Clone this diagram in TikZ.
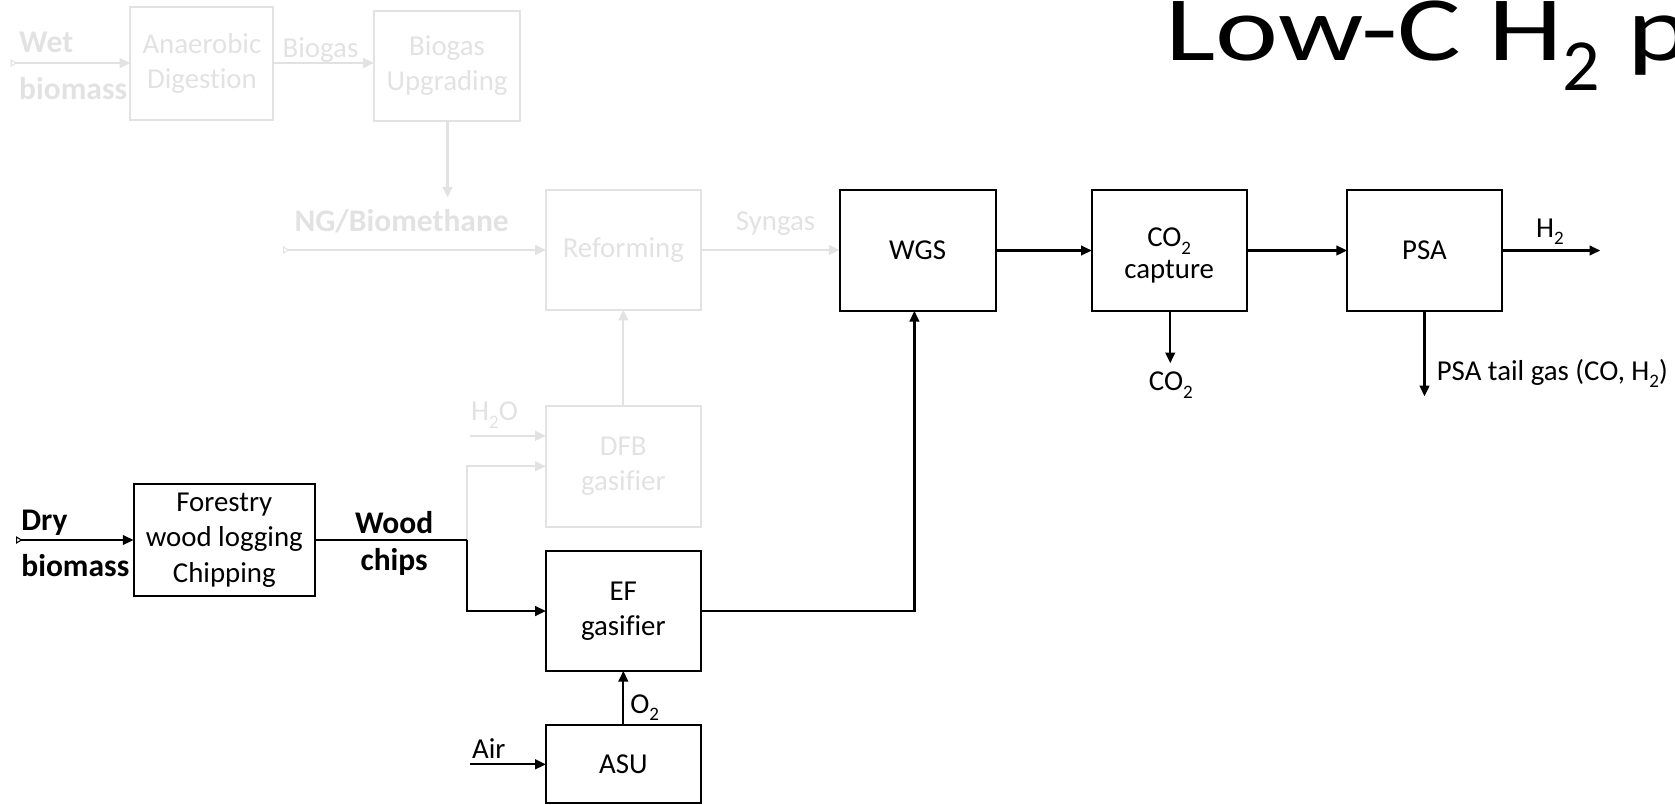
\documentclass[tikz,border=0pt]{standalone}
\usepackage{fontspec}
\setmainfont{Carlito}[Ligatures={TeX,NoCommon}]
\usetikzlibrary{arrows.meta}
\definecolor{faded}{RGB}{226,226,226}
\newcommand{\chemsub}[1]{\raisebox{-0.25em}{\scalebox{0.66}{#1}}}

\begin{document}
\begin{tikzpicture}[x=1pt,y=-1pt,
  txt/.style={font=\fontsize{27}{33}\selectfont, inner sep=0pt, outer sep=0pt},
  btxt/.style={txt, font=\fontsize{29.5}{35}\selectfont\bfseries},
  box/.style={draw, line width=1.9pt, inner sep=0pt, outer sep=0pt, align=center,
              font=\fontsize{27}{33}\selectfont},
  flow/.style={line width=2.1pt, -{Triangle[length=10pt,width=9pt]}},
  plain/.style={line width=2.1pt},
  feed/.style={line width=2.1pt, {Triangle[open,reversed,length=6pt,width=7pt,line width=1pt]}-{Triangle[length=10pt,width=9pt]}},
  dim/.style={draw=faded, text=faded},
]
\useasboundingbox (0,0) rectangle (1568,753);
\clip (0,0) rectangle (1568,753);

% ---------- title ----------
\node[anchor=base west, inner sep=0pt] (title) at (1091,57)
  {\scalebox{1.3}[1]{\fontsize{86}{90}\selectfont Low-C H\raisebox{-0.32em}{\scalebox{0.62}[0.8]{2}} p}};

% ---------- faded routes (anaerobic digestion and DFB gasification) ----------
\node[box, dim, minimum width=134pt, minimum height=105pt] (ad) at (189,59.5) {Anaerobic\\Digestion};
\node[box, dim, minimum width=137pt, minimum height=103pt] (bu) at (418.5,61.5) {Biogas\\Upgrading};
\node[box, dim, minimum width=145pt, minimum height=112pt] (ref) at (583.5,234) {Reforming};
\node[box, dim, minimum width=145pt, minimum height=113pt] (dfb) at (583.5,436.5) {DFB\\gasifier};

\node[btxt, text=faded, anchor=base west] (wet) at (18,49) {Wet};
\node[btxt, text=faded, anchor=base west] (wetb) at (18,93) {biomass};
\node[txt, text=faded, anchor=base] (biogas) at (300,54) {Biogas};
\node[btxt, text=faded, anchor=base] (ngb) at (376,217) {NG/Biomethane};
\node[txt, text=faded, anchor=base] (syngas) at (726,216) {Syngas};
\node[txt, text=faded, anchor=base] (h2o) at (463,394) {H\chemsub{2}O};

\coordinate (wetin) at (10,59);
\coordinate (ngtip) at (419,185);
\coordinate (ngin) at (265,234);
\coordinate (h2oin) at (440,408);
\coordinate (j) at (437,505.5);

\draw[feed, faded] (wetin) -- (ad.west |- wetin);
\draw[flow, faded] (ad.east |- wetin) -- (bu.west |- wetin);
\draw[flow, faded] (bu.south -| ngtip) -- (ngtip);
\draw[feed, faded] (ngin) -- (ref.west);
\draw[flow, faded] (ref.east) -- (ref.east -| 786,0);
\draw[flow, faded] (dfb.north) -- (ref.south);
\draw[flow, faded] (h2oin) -- (dfb.west |- h2oin);
\draw[flow, faded] (j) |- (dfb.west);

% ---------- active route (EF gasification) ----------
\node[box, minimum width=170pt, minimum height=105pt] (fwl) at (210,505.5) {Forestry\\wood logging\\Chipping};
\node[box, minimum width=145pt, minimum height=112pt] (ef) at (583.5,572) {EF\\gasifier};
\node[box, minimum width=145pt, minimum height=73pt] (asu) at (583.5,715.5) {ASU};
\node[box, minimum width=146pt, minimum height=113pt] (wgs) at (859,234.5) {WGS};
\node[box, minimum width=145pt, minimum height=113pt] (cc) at (1094.5,234.5) {};
\node[txt, align=center] (cctext) at ([yshift=-5pt]cc.center) {CO\chemsub{2}\\[-3pt]capture};
\node[box, minimum width=145pt, minimum height=113pt] (psa) at (1333.5,234.5) {PSA};

\node[btxt, anchor=base west] (dry) at (20,497) {Dry};
\node[btxt, anchor=base west] (dryb) at (20,540) {biomass};
\node[btxt, anchor=base] (wood) at (369,499) {Wood};
\node[btxt, anchor=base] (chips) at (369,534) {chips};
\node[txt, anchor=base west] (o2) at (590,668) {O\chemsub{2}};
\node[txt, anchor=base west] (air) at (442,710) {Air};
\node[txt, anchor=base] (h2) at (1451,222) {H\chemsub{2}};
\node[txt, anchor=base] (co2) at (1096,366) {CO\chemsub{2}};
\node[txt, anchor=base west] (tail) at (1345,356) {PSA tail gas (CO, H\chemsub{2})};

\coordinate (dryin) at (15,505.5);
\coordinate (airin) at (440,715.5);
\coordinate (h2out) at (1498,234.5);
\coordinate (co2out) at (1095.5,340);
\coordinate (tailout) at (1333.5,371);

\draw[feed] (dryin) -- (fwl.west);
\draw[plain] (fwl.east) -- (j);
\draw[flow] (j) |- (ef.west);
\draw[flow] (ef.east) -| ([xshift=-3pt]wgs.south);
\draw[flow] (asu.north) -- (ef.south);
\draw[flow] (airin) -- (asu.west);
\draw[flow] (wgs.east) -- (cc.west);
\draw[flow] (cc.east) -- (psa.west);
\draw[flow] (psa.east) -- (h2out);
\draw[flow] (cc.south -| co2out) -- (co2out);
\draw[flow] (psa.south) -- (tailout);
\end{tikzpicture}
\end{document}
